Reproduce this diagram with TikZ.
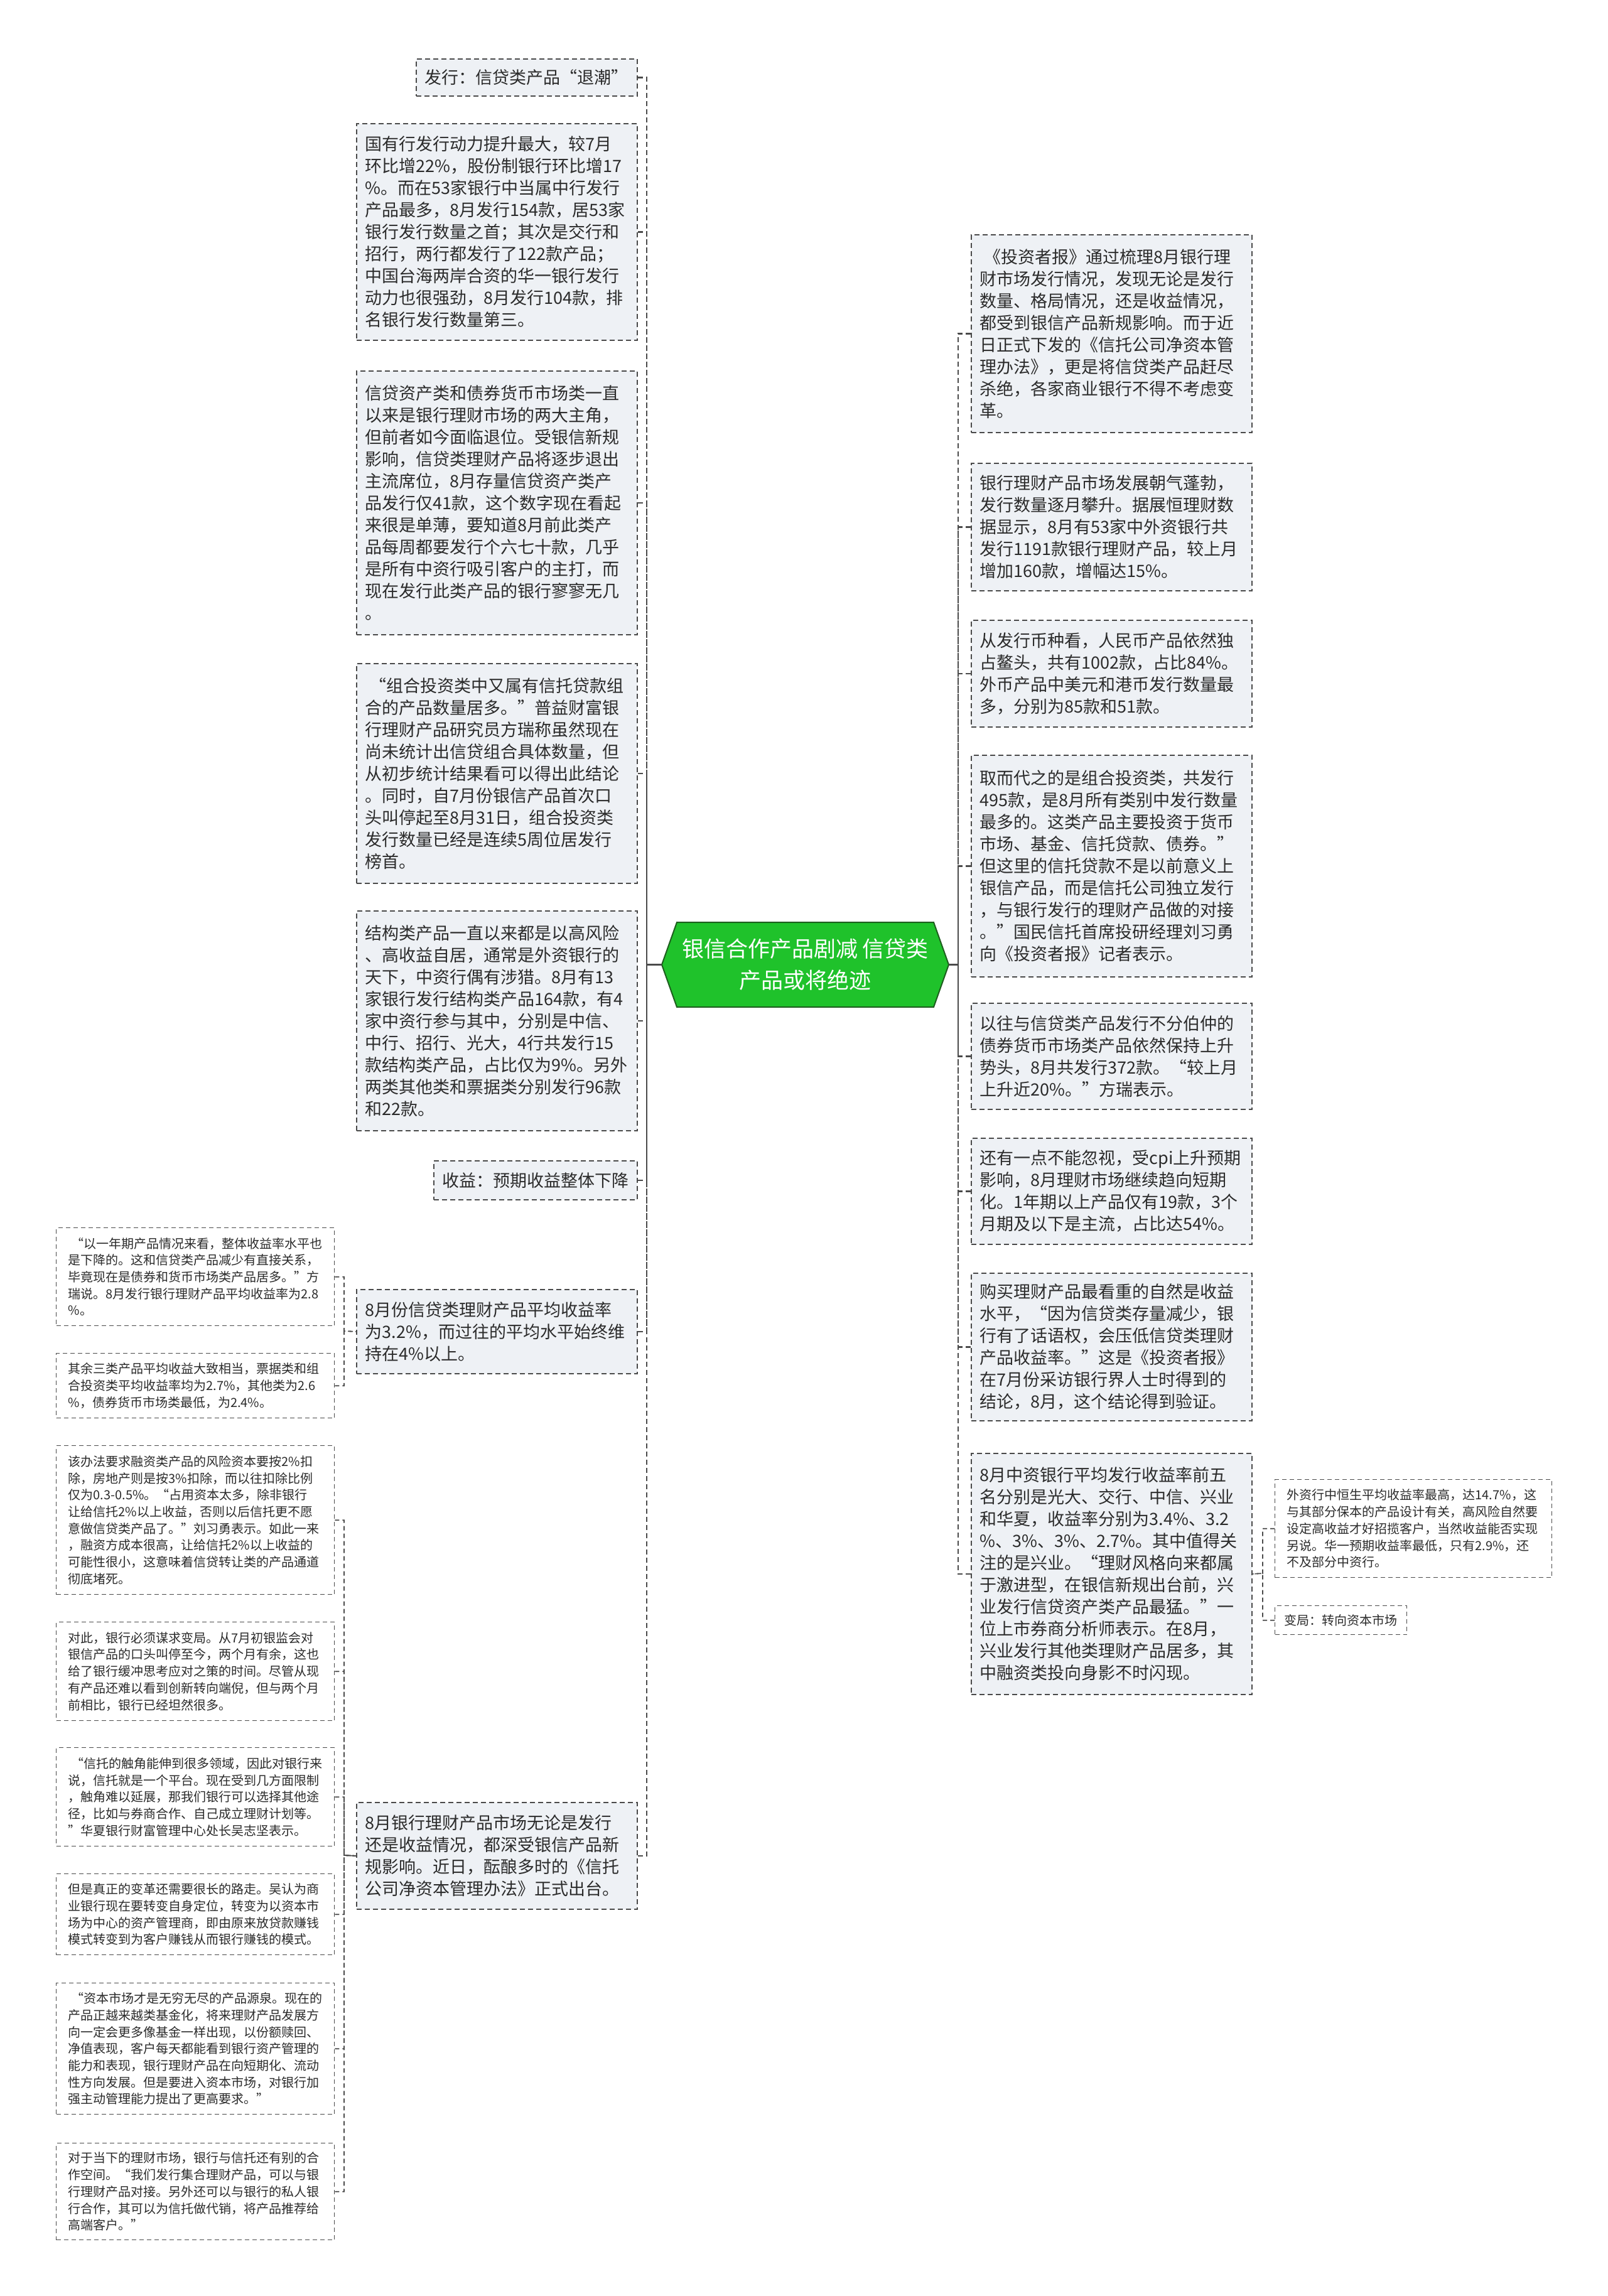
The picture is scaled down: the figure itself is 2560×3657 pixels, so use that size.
\documentclass[tikz,border=0pt]{standalone}
\usepackage{fontspec}
\setmainfont{Noto Sans CJK SC}
\definecolor{boxfill}{HTML}{EEF1F5}
\definecolor{boxline}{HTML}{4A4A4A}
\definecolor{txt}{HTML}{2B2B2B}
\definecolor{centerfill}{HTML}{1FC22B}
\definecolor{centerline}{HTML}{1E5E1E}
\begin{document}
\begin{tikzpicture}[x=1pt,y=-1pt,
  mbox/.style={draw=boxline, fill=boxfill, line width=1.8pt, dash pattern=on 8pt off 5pt, text=txt, font=\fontsize{27}{35}\selectfont, align=left, inner xsep=14pt, inner ysep=0pt, anchor=north west, text width=419pt},
  hbox/.style={draw=boxline, fill=boxfill, line width=1.8pt, dash pattern=on 8pt off 5pt, text=txt, font=\fontsize{27}{35}\selectfont, inner sep=0pt, anchor=north west},
  sbox/.style={draw=boxline, fill=white, line width=1.4pt, dash pattern=on 7pt off 5pt, text=txt, font=\fontsize{20}{26.7}\selectfont, align=left, inner xsep=19pt, inner ysep=0pt, anchor=north west, text width=405pt},
  shbox/.style={draw=boxline, fill=white, line width=1.4pt, dash pattern=on 7pt off 5pt, text=txt, font=\fontsize{20}{26.7}\selectfont, inner sep=0pt, anchor=north west},
  conn/.style={draw=boxline, line width=2.4pt, dash pattern=on 8pt off 5pt},
  sconn/.style={draw=boxline, line width=1.6pt, dash pattern=on 7pt off 5pt}]
\useasboundingbox (0,0) rectangle (2560,3657);
\fill[white] (0,0) rectangle (2560,3657);

% centre
\fill[centerfill, draw=centerline, line width=2pt] (1054,1536.5) -- (1078,1469) -- (1487,1469) -- (1511,1536.5) -- (1487,1604) -- (1078,1604) -- cycle;
\node[minimum width=457pt, minimum height=135pt, inner sep=0pt, text=white, align=center, font=\fontsize{35}{50}\selectfont] (C) at (1282.5,1536.5) {银信合作产品剧减 信贷类\\产品或将绝迹};

% left column
\node[hbox, minimum width=352pt, minimum height=59pt] (L0) at (662,93) {发行：信贷类产品“退潮”};
\node[mbox, minimum height=345pt] (L1) at (567,196) {国有行发行动力提升最大，较7月\\%
环比增22\%，股份制银行环比增17\\%
\%。而在53家银行中当属中行发行\\%
产品最多，8月发行154款，居53家\\%
银行发行数量之首；其次是交行和\\%
招行，两行都发行了122款产品；\\%
中国台海两岸合资的华一银行发行\\%
动力也很强劲，8月发行104款，排\\%
名银行发行数量第三。};
\node[mbox, minimum height=420pt] (L2) at (567,590) {信贷资产类和债券货币市场类一直\\%
以来是银行理财市场的两大主角，\\%
但前者如今面临退位。受银信新规\\%
影响，信贷类理财产品将逐步退出\\%
主流席位，8月存量信贷资产类产\\%
品发行仅41款，这个数字现在看起\\%
来很是单薄，要知道8月前此类产\\%
品每周都要发行个六七十款，几乎\\%
是所有中资行吸引客户的主打，而\\%
现在发行此类产品的银行寥寥无几\\%
。};
\node[mbox, minimum height=350pt] (L3) at (567,1056) {\hspace*{0.25em}“组合投资类中又属有信托贷款组\\%
合的产品数量居多。”普益财富银\\%
行理财产品研究员方瑞称虽然现在\\%
尚未统计出信贷组合具体数量，但\\%
从初步统计结果看可以得出此结论\\%
。同时，自7月份银信产品首次口\\%
头叫停起至8月31日，组合投资类\\%
发行数量已经是连续5周位居发行\\%
榜首。};
\node[mbox, minimum height=350pt] (L4) at (567,1450) {结构类产品一直以来都是以高风险\\%
、高收益自居，通常是外资银行的\\%
天下，中资行偶有涉猎。8月有13\\%
家银行发行结构类产品164款，有4\\%
家中资行参与其中，分别是中信、\\%
中行、招行、光大，4行共发行15\\%
款结构类产品，占比仅为9\%。另外\\%
两类其他类和票据类分别发行96款\\%
和22款。};
\node[hbox, minimum width=324pt, minimum height=62pt] (L5) at (690,1848) {收益：预期收益整体下降};
\node[mbox, minimum height=134pt] (L6) at (567,2053) {8月份信贷类理财产品平均收益率\\%
为3.2\%，而过往的平均水平始终维\\%
持在4\%以上。};
\node[mbox, minimum height=170pt] (L7) at (567,2870) {8月银行理财产品市场无论是发行\\%
还是收益情况，都深受银信产品新\\%
规影响。近日，酝酿多时的《信托\\%
公司净资本管理办法》正式出台。};

% far left
\node[sbox, minimum height=156pt] (F1) at (89,1955) {\hspace*{0.25em}“以一年期产品情况来看，整体收益率水平也\\%
是下降的。这和信贷类产品减少有直接关系，\\%
毕竟现在是债券和货币市场类产品居多。”方\\%
瑞说。8月发行银行理财产品平均收益率为2.8\\%
\%。};
\node[sbox, minimum height=103pt] (F2) at (89,2155) {其余三类产品平均收益大致相当，票据类和组\\%
合投资类平均收益率均为2.7\%，其他类为2.6\\%
\%，债券货币市场类最低，为2.4\%。};
\node[sbox, minimum height=237pt] (F3) at (89,2302) {该办法要求融资类产品的风险资本要按2\%扣\\%
除，房地产则是按3\%扣除，而以往扣除比例\\%
仅为0.3-0.5\%。“占用资本太多，除非银行\\%
让给信托2\%以上收益，否则以后信托更不愿\\%
意做信贷类产品了。”刘习勇表示。如此一来\\%
，融资方成本很高，让给信托2\%以上收益的\\%
可能性很小，这意味着信贷转让类的产品通道\\%
彻底堵死。};
\node[sbox, minimum height=157pt] (F4) at (89,2583) {对此，银行必须谋求变局。从7月初银监会对\\%
银信产品的口头叫停至今，两个月有余，这也\\%
给了银行缓冲思考应对之策的时间。尽管从现\\%
有产品还难以看到创新转向端倪，但与两个月\\%
前相比，银行已经坦然很多。};
\node[sbox, minimum height=157pt] (F5) at (89,2783) {\hspace*{0.25em}“信托的触角能伸到很多领域，因此对银行来\\%
说，信托就是一个平台。现在受到几方面限制\\%
，触角难以延展，那我们银行可以选择其他途\\%
径，比如与券商合作、自己成立理财计划等。\\%
”华夏银行财富管理中心处长吴志坚表示。};
\node[sbox, minimum height=129pt] (F6) at (89,2984) {但是真正的变革还需要很长的路走。吴认为商\\%
业银行现在要转变自身定位，转变为以资本市\\%
场为中心的资产管理商，即由原来放贷款赚钱\\%
模式转变到为客户赚钱从而银行赚钱的模式。};
\node[sbox, minimum height=209pt] (F7) at (89,3158) {\hspace*{0.25em}“资本市场才是无穷无尽的产品源泉。现在的\\%
产品正越来越类基金化，将来理财产品发展方\\%
向一定会更多像基金一样出现，以份额赎回、\\%
净值表现，客户每天都能看到银行资产管理的\\%
能力和表现，银行理财产品在向短期化、流动\\%
性方向发展。但是要进入资本市场，对银行加\\%
强主动管理能力提出了更高要求。”};
\node[sbox, minimum height=154pt] (F8) at (89,3413) {对于当下的理财市场，银行与信托还有别的合\\%
作空间。“我们发行集合理财产品，可以与银\\%
行理财产品对接。另外还可以与银行的私人银\\%
行合作，其可以为信托做代销，将产品推荐给\\%
高端客户。”};

% right column
\node[mbox, minimum height=315pt] (R1) at (1546,373) {\hspace*{0.25em}《投资者报》通过梳理8月银行理\\%
财市场发行情况，发现无论是发行\\%
数量、格局情况，还是收益情况，\\%
都受到银信产品新规影响。而于近\\%
日正式下发的《信托公司净资本管\\%
理办法》，更是将信贷类产品赶尽\\%
杀绝，各家商业银行不得不考虑变\\%
革。};
\node[mbox, minimum height=203pt] (R2) at (1546,737) {银行理财产品市场发展朝气蓬勃，\\%
发行数量逐月攀升。据展恒理财数\\%
据显示，8月有53家中外资银行共\\%
发行1191款银行理财产品，较上月\\%
增加160款，增幅达15\%。};
\node[mbox, minimum height=170pt] (R3) at (1546,987) {从发行币种看，人民币产品依然独\\%
占鳌头，共有1002款，占比84\%。\\%
外币产品中美元和港币发行数量最\\%
多，分别为85款和51款。};
\node[mbox, minimum height=353pt] (R4) at (1546,1202) {取而代之的是组合投资类，共发行\\%
495款，是8月所有类别中发行数量\\%
最多的。这类产品主要投资于货币\\%
市场、基金、信托贷款、债券。”\\%
但这里的信托贷款不是以前意义上\\%
银信产品，而是信托公司独立发行\\%
，与银行发行的理财产品做的对接\\%
。”国民信托首席投研经理刘习勇\\%
向《投资者报》记者表示。};
\node[mbox, minimum height=169pt] (R5) at (1546,1597) {以往与信贷类产品发行不分伯仲的\\%
债券货币市场类产品依然保持上升\\%
势头，8月共发行372款。“较上月\\%
上升近20\%。”方瑞表示。};
\node[mbox, minimum height=169pt] (R6) at (1546,1812) {还有一点不能忽视，受cpi上升预期\\%
影响，8月理财市场继续趋向短期\\%
化。1年期以上产品仅有19款，3个\\%
月期及以下是主流，占比达54\%。};
\node[mbox, minimum height=235pt] (R7) at (1546,2027) {购买理财产品最看重的自然是收益\\%
水平，“因为信贷类存量减少，银\\%
行有了话语权，会压低信贷类理财\\%
产品收益率。”这是《投资者报》\\%
在7月份采访银行界人士时得到的\\%
结论，8月，这个结论得到验证。};
\node[mbox, minimum height=384pt] (R8) at (1546,2314) {8月中资银行平均发行收益率前五\\%
名分别是光大、交行、中信、兴业\\%
和华夏，收益率分别为3.4\%、3.2\\%
\%、3\%、3\%、2.7\%。其中值得关\\%
注的是兴业。“理财风格向来都属\\%
于激进型，在银信新规出台前，兴\\%
业发行信贷资产类产品最猛。”一\\%
位上市券商分析师表示。在8月，\\%
兴业发行其他类理财产品居多，其\\%
中融资类投向身影不时闪现。};

% far right
\node[sbox, minimum height=156pt, text width=403pt] (G1) at (2030,2356) {外资行中恒生平均收益率最高，达14.7\%，这\\%
与其部分保本的产品设计有关，高风险自然要\\%
设定高收益才好招揽客户，当然收益能否实现\\%
另说。华一预期收益率最低，只有2.9\%，还\\%
不及部分中资行。};
\node[shbox, minimum width=210pt, minimum height=46pt] (G2) at (2030,2557) {变局：转向资本市场};

% trunk coordinates
\coordinate (LT) at (1030,1536.5);
\coordinate (RT) at (1526,1536.5);
\coordinate (FA) at (548,2120);
\coordinate (FB) at (548,2955);
\coordinate (GT) at (2011,2506);

% connectors
\foreach \n in {L0,L1,L2,L3,L4,L5,L6,L7} \draw[conn] (\n.east) -| (LT) -- (C.west);
\foreach \n in {R1,R2,R3,R4,R5,R6,R7,R8} \draw[conn] (\n.west) -| (RT) -- (C.east);
\foreach \n in {F1,F2} \draw[sconn] (\n.east) -| (FA) -- (L6.west);
\foreach \n in {F3,F4,F5,F6,F7,F8} \draw[sconn] (\n.east) -| (FB) -- (L7.west);
\foreach \n in {G1,G2} \draw[sconn] (\n.west) -| (GT) -- (R8.east);
\end{tikzpicture}
\end{document}
